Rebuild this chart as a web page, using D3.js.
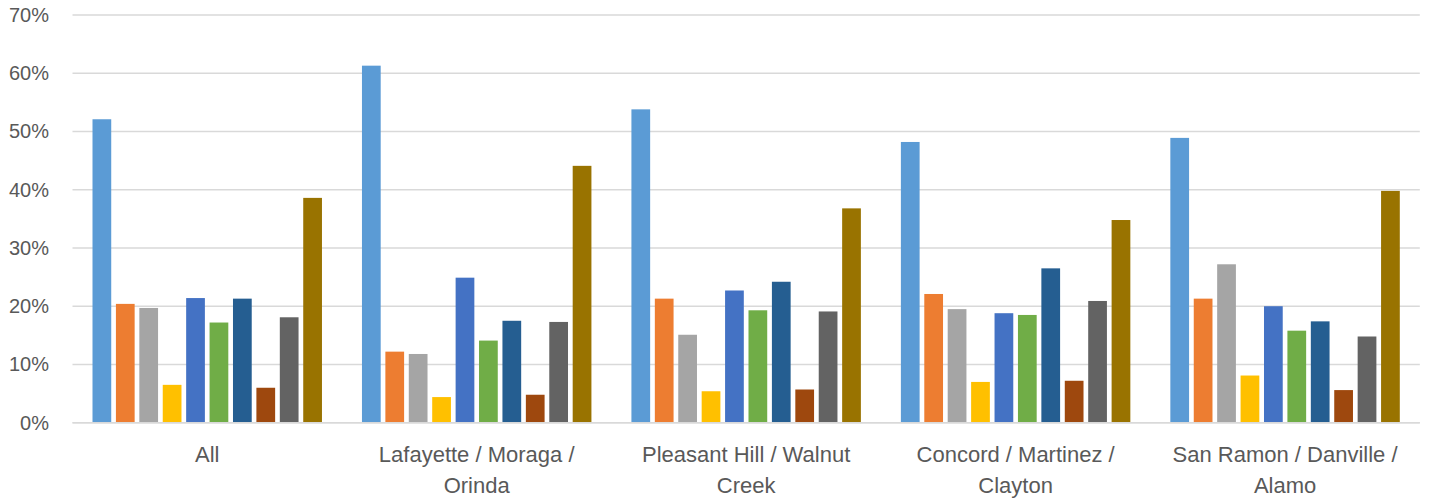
<!DOCTYPE html>
<html>
<head>
<meta charset="utf-8">
<script src="https://cdn.jsdelivr.net/npm/d3@7"></script>
<style>
  html, body { margin: 0; padding: 0; background: #fff; }
  svg { display: block; font-family: "Liberation Sans", Arial, sans-serif; }
</style>
</head>
<body>
<svg id="chart" width="1429" height="498"></svg>
<script>
// ---- data ----
const categories = ["All", "Lafayette / Moraga / Orinda", "Pleasant Hill / Walnut Creek", "Concord / Martinez / Clayton", "San Ramon / Danville / Alamo"];
const categoryLines = [["All"], ["Lafayette / Moraga /", "Orinda"], ["Pleasant Hill / Walnut", "Creek"], ["Concord / Martinez /", "Clayton"], ["San Ramon / Danville /", "Alamo"]];
const seriesNames = ["S1", "S2", "S3", "S4", "S5", "S6", "S7", "S8", "S9", "S10"];
const seriesColors = ["#5B9BD5", "#ED7D31", "#A5A5A5", "#FFC000", "#4472C4", "#70AD47", "#255E91", "#9E480E", "#636363", "#997300"];
// values (%) per category, one entry per series
const valuesAll        = [52.1, 20.4, 19.7, 6.5, 21.4, 17.2, 21.3, 6.0, 18.1, 38.6];
const valuesLafayette  = [61.3, 12.2, 11.8, 4.4, 24.9, 14.1, 17.5, 4.8, 17.3, 44.1];
const valuesPleasant   = [53.8, 21.3, 15.1, 5.4, 22.7, 19.3, 24.2, 5.7, 19.1, 36.8];
const valuesConcord    = [48.2, 22.1, 19.5, 7.0, 18.8, 18.5, 26.5, 7.2, 20.9, 34.8];
const valuesSanRamon   = [48.9, 21.3, 27.2, 8.1, 20.0, 15.8, 17.4, 5.6, 14.8, 39.8];
const yTicks = [0, 10, 20, 30, 40, 50, 60, 70];

const table = [valuesAll, valuesLafayette, valuesPleasant, valuesConcord, valuesSanRamon];

// ---- layout ----
const svg = d3.select("#chart");
const plotLeft = 72.5, plotRight = 1419.8, plotTop = 15, plotBottom = 422.7;

const x0 = d3.scaleBand().domain(categories).range([plotLeft, plotRight]).paddingInner(0).paddingOuter(0);
const groupW = x0.bandwidth();
const x1 = d3.scaleBand().domain(seriesNames).range([20, groupW - 20]).paddingInner(0.2).paddingOuter(0);
const y = d3.scaleLinear().domain([0, 70]).range([plotBottom, plotTop]);

// gridlines
svg.append("g").selectAll("line").data(yTicks).join("line")
  .attr("x1", plotLeft).attr("x2", plotRight)
  .attr("y1", d => y(d)).attr("y2", d => y(d))
  .attr("stroke", "#d9d9d9").attr("stroke-width", 1.5);

// y tick labels
svg.append("g").selectAll("text").data(yTicks).join("text")
  .attr("x", 49).attr("y", d => y(d))
  .attr("text-anchor", "end").attr("dominant-baseline", "central")
  .attr("font-size", 20).attr("fill", "#595959")
  .text(d => d + "%");

// bars
const groups = svg.append("g").selectAll("g").data(categories).join("g")
  .attr("transform", d => `translate(${x0(d)},0)`);
groups.selectAll("rect").data((c, i) => table[i].map((v, j) => ({ s: seriesNames[j], v, j })))
  .join("rect")
  .attr("x", d => x1(d.s))
  .attr("width", x1.bandwidth())
  .attr("y", d => y(d.v))
  .attr("height", d => y(0) - y(d.v))
  .attr("fill", d => seriesColors[d.j]);

// baseline
svg.append("line").attr("x1", plotLeft).attr("x2", plotRight)
  .attr("y1", y(0)).attr("y2", y(0))
  .attr("stroke", "#d9d9d9").attr("stroke-width", 1.5);

// category labels
const labels = svg.append("g").selectAll("text").data(categories).join("text")
  .attr("text-anchor", "middle")
  .attr("font-size", 22).attr("fill", "#595959");
labels.each(function(c, i) {
  const t = d3.select(this);
  categoryLines[i].forEach((line, k) => {
    t.append("tspan")
      .attr("x", x0(c) + groupW / 2)
      .attr("y", 461.7 + k * 31.5)
      .text(line);
  });
});
</script>
</body>
</html>
